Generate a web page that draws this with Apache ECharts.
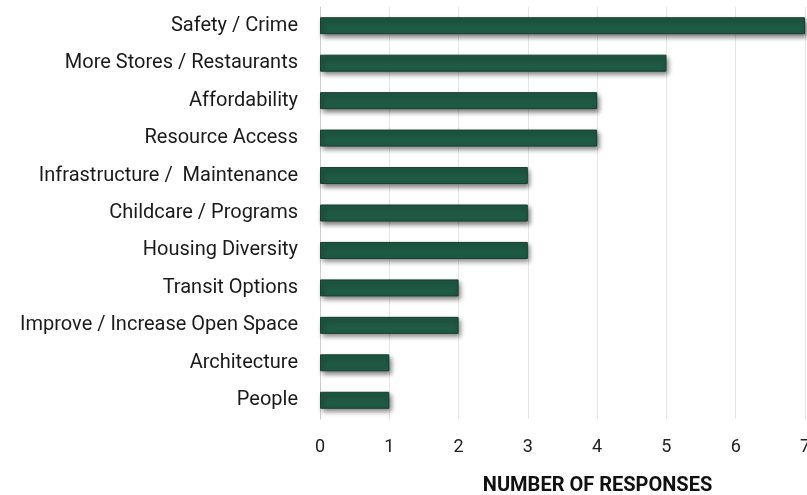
<!DOCTYPE html>
<html>
<head>
<meta charset="utf-8">
<script src="https://cdn.jsdelivr.net/npm/echarts@6/dist/echarts.min.js"></script>
<style>
  html, body { margin: 0; padding: 0; background: #ffffff; }
  #chart { width: 807px; height: 495px; }
</style>
</head>
<body>
<div id="chart"></div>
<script>
// Categories in display order, top to bottom (category axis is inverted below)
const categories = [
  'Safety / Crime',
  'More Stores / Restaurants',
  'Affordability',
  'Resource Access',
  'Infrastructure /  Maintenance',
  'Childcare / Programs',
  'Housing Diversity',
  'Transit Options',
  'Improve / Increase Open Space',
  'Architecture',
  'People'
];
const responses = [7, 5, 4, 4, 3, 3, 3, 2, 2, 1, 1];
const axisTitle = 'NUMBER OF RESPONSES';

const chart = echarts.init(document.getElementById('chart'), null, { renderer: 'canvas' });
chart.setOption({
  animation: false,
  grid: {
    left: 320, right: 2, top: 7, bottom: 76,
    containLabel: false,
    outerBoundsMode: 'none'
  },
  xAxis: {
    type: 'value',
    min: 0, max: 7, interval: 1,
    axisLine: { show: false },
    axisTick: { show: false },
    splitLine: { show: true, lineStyle: { color: '#e6e6e6', width: 1 } },
    axisLabel: { color: '#222', fontSize: 18, fontFamily: 'Roboto', margin: 19 },
    name: axisTitle,
    nameLocation: 'middle',
    nameGap: 57,
    nameTextStyle: {
      color: '#111', fontSize: 20, fontWeight: 'bold', fontFamily: 'Roboto',
      padding: [0, 0, 0, 70]
    }
  },
  yAxis: {
    type: 'category',
    data: categories,
    inverse: true,
    axisLine: { show: true, lineStyle: { color: '#cfcfcf', width: 1 } },
    axisTick: { show: false },
    axisLabel: { color: '#1a1a1a', fontSize: 20, fontFamily: 'Roboto', margin: 22 }
  },
  series: [{
    type: 'bar',
    data: responses,
    barWidth: 17,
    itemStyle: {
      color: '#1f5a44',
      borderColor: '#183f31',
      borderWidth: 1,
      shadowColor: 'rgba(0,0,0,0.55)',
      shadowBlur: 5,
      shadowOffsetX: 2,
      shadowOffsetY: 3
    }
  }]
});
</script>
</body>
</html>
